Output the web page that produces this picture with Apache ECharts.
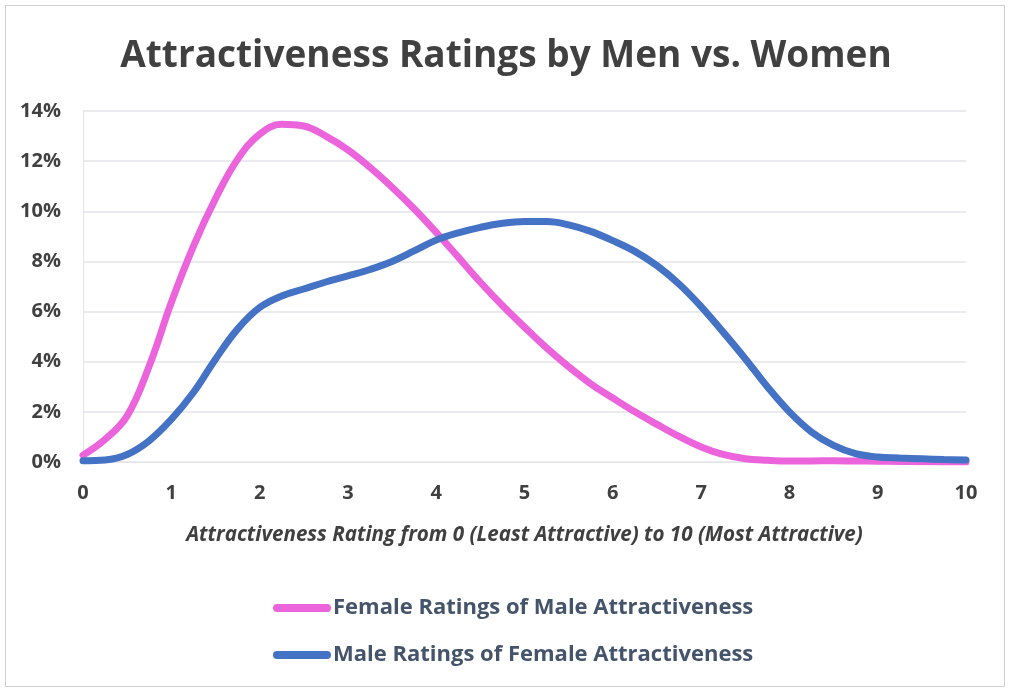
<!DOCTYPE html>
<html>
<head>
<meta charset="utf-8">
<script src="https://cdn.jsdelivr.net/npm/echarts@6/dist/echarts.min.js"></script>
<style>
html,body{margin:0;padding:0;background:#fff;}
#wrap{position:absolute;left:5px;top:5px;width:1000px;height:682px;border:1px solid #d0d0d0;box-sizing:border-box;}
#chart{position:absolute;left:0;top:0;width:1012px;height:694px;}
</style>
</head>
<body>
<div id="wrap"></div>
<div id="chart"></div>
<script>
const titleText = 'Attractiveness Ratings by Men vs. Women';
const xAxisName = 'Attractiveness Rating from 0 (Least Attractive) to 10 (Most Attractive)';
const ratings = [0,0.25,0.5,0.75,1,1.25,1.5,1.75,2,2.25,2.5,2.75,3,3.25,3.5,3.75,4,4.25,4.5,4.75,5,5.25,5.5,5.75,6,6.25,6.5,6.75,7,7.25,7.5,7.75,8,8.25,8.5,8.75,9,9.25,9.5,9.75,10];
const femaleName = 'Female Ratings of Male Attractiveness';
const maleName = 'Male Ratings of Female Attractiveness';
const femaleRatings = [0.27,0.9,1.84,3.83,6.36,8.6,10.5,12.07,13.07,13.47,13.4,13.0,12.45,11.75,10.96,10.1,9.16,8.17,7.17,6.24,5.38,4.55,3.8,3.12,2.55,2.0,1.5,1.02,0.6,0.3,0.13,0.07,0.04,0.04,0.05,0.04,0.03,0.02,0.01,0,0];
const maleRatings = [0.05,0.08,0.3,0.85,1.7,2.77,4.1,5.3,6.16,6.62,6.9,7.18,7.42,7.68,8.0,8.42,8.85,9.14,9.36,9.52,9.59,9.59,9.46,9.2,8.83,8.4,7.83,7.1,6.2,5.18,4.12,3.0,2.0,1.2,0.66,0.33,0.2,0.16,0.13,0.1,0.08];
const yTicks = [0,2,4,6,8,10,12,14];

const font = 'Open Sans';
const chart = echarts.init(document.getElementById('chart'));
chart.setOption({
  animation:false,
  title:{text:titleText,left:'center',top:33,textStyle:{fontFamily:font,fontWeight:'bold',fontSize:37,color:'#404040'}},
  grid:{left:83,right:46,top:111,bottom:232},
  xAxis:{type:'value',min:0,max:10,interval:1,
    axisLine:{show:true,lineStyle:{color:'#e3e5ea',width:1}},
    axisTick:{show:false},splitLine:{show:false},
    axisLabel:{margin:21,fontFamily:font,fontWeight:'bold',fontSize:20,color:'#404040'},
    name:xAxisName,nameLocation:'middle',nameGap:63,
    nameTextStyle:{fontFamily:font,fontWeight:'bold',fontStyle:'italic',fontSize:20.6,color:'#404040'}},
  yAxis:{type:'value',min:0,max:14,interval:2,
    axisLine:{show:true,lineStyle:{color:'#e3e5ea',width:1}},
    axisTick:{show:false},
    splitLine:{show:true,lineStyle:{color:'#e3e5ea',width:1.5}},
    axisLabel:{margin:22,fontFamily:font,fontWeight:'bold',fontSize:20,color:'#404040',
      formatter:v=>yTicks.includes(v)?v+'%':''}},
  legend:{orient:'vertical',left:268,top:592,itemGap:25,itemWidth:58,itemHeight:8,
    icon:'path://M4,0 L54,0 A4,4 0 0 1 54,8 L4,8 A4,4 0 0 1 4,0 Z',
    textStyle:{fontFamily:font,fontWeight:'bold',fontSize:22,color:'#44546A',padding:[0,0,0,-3]},
    data:[femaleName,maleName]},
  series:[
    {name:femaleName,type:'line',smooth:0.4,symbol:'none',z:2,
     lineStyle:{width:7,color:'#EB64DC',cap:'round'},itemStyle:{color:'#EB64DC'},
     data:ratings.map((x,i)=>[x,femaleRatings[i]])},
    {name:maleName,type:'line',smooth:0.4,symbol:'none',z:3,
     lineStyle:{width:7,color:'#4472C4',cap:'round'},itemStyle:{color:'#4472C4'},
     data:ratings.map((x,i)=>[x,maleRatings[i]])}
  ]
});
</script>
</body>
</html>
